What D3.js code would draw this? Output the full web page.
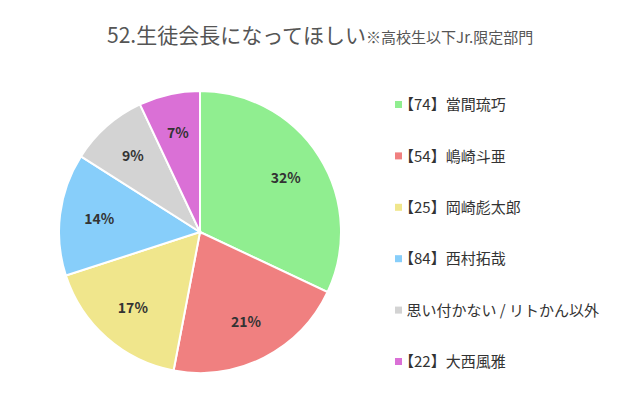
<!DOCTYPE html><html><head><meta charset="utf-8"><script src="https://cdn.jsdelivr.net/npm/d3@7"></script>
<style>body{margin:0;background:#fff}text{font-family:"Noto Sans CJK JP",sans-serif}</style></head><body><svg id="c" width="640" height="408"></svg><script>
const labels=["【74】當間琉巧","【54】嶋崎斗亜","【25】岡崎彪太郎","【84】西村拓哉","思い付かない / リトかん以外","【22】大西風雅"];
const values=[32,21,17,14,9,7];
const colors=["#90EE90","#F08080","#F0E68C","#87CEFA","#D3D3D3","#DA70D6"];
const svg=d3.select("#c");
const t=svg.append("text").attr("x",107).attr("y",43).attr("fill","#555");
t.append("tspan").attr("font-size",21).text("52.生徒会長になってほしい");
t.append("tspan").attr("font-size",15).text("※高校生以下Jr.限定部門");
const cx=200,cy=232,r=141;
const pie=d3.pie().sort(null).value(d=>d)(values);
const arc=d3.arc().innerRadius(0).outerRadius(r);
const la=d3.arc().innerRadius(r*0.72).outerRadius(r*0.72);
const g=svg.append("g").attr("transform",`translate(${cx},${cy})`);
g.selectAll("path").data(pie).join("path").attr("d",arc).attr("fill",(d,i)=>colors[i]).attr("stroke","#fff").attr("stroke-width",2);
g.selectAll("text").data(pie).join("text").attr("transform",d=>`translate(${la.centroid(d)})`).attr("text-anchor","middle").attr("dy","0.35em").attr("font-size",14).attr("font-weight","bold").attr("fill","#333").text(d=>d.data+"%");
const y=d3.scalePoint().domain(d3.range(labels.length)).range([105,362]);
const lg=svg.append("g").selectAll("g").data(labels).join("g").attr("transform",(d,i)=>`translate(395,${y(i)})`);
lg.append("rect").attr("x",0).attr("y",-4).attr("width",7).attr("height",7).attr("fill",(d,i)=>colors[i]);
lg.append("text").attr("x",4).attr("dy","0.35em").attr("font-size",15).attr("fill","#333").text(d=>d.startsWith("【")?d:"\u2002"+d);
</script></body></html>
